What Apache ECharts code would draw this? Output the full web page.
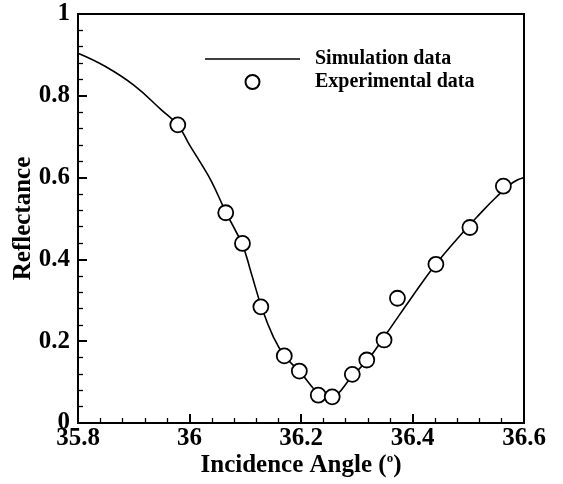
<!DOCTYPE html>
<html>
<head>
<meta charset="utf-8">
<script src="https://cdn.jsdelivr.net/npm/echarts@6/dist/echarts.min.js"></script>
<style>
html,body{margin:0;padding:0;background:#fff;}
#chart{width:563px;height:484px;}
</style>
</head>
<body>
<div id="chart"></div>
<script>
// Simulation curve
var simX = [35.80, 35.85, 35.90, 35.95, 35.98, 36.00, 36.02, 36.04, 36.065, 36.095, 36.11, 36.13, 36.15, 36.17, 36.20, 36.22, 36.235, 36.25, 36.265, 36.29, 36.32, 36.35, 36.40, 36.44, 36.48, 36.52, 36.55, 36.58, 36.60];
var simY = [0.904, 0.871, 0.826, 0.765, 0.727, 0.680, 0.636, 0.589, 0.516, 0.435, 0.370, 0.280, 0.212, 0.165, 0.122, 0.088, 0.068, 0.062, 0.070, 0.112, 0.155, 0.212, 0.310, 0.385, 0.450, 0.510, 0.552, 0.588, 0.600];
// Experimental points
var expX = [35.979, 36.065, 36.095, 36.128, 36.170, 36.197, 36.231, 36.256, 36.292, 36.318, 36.349, 36.373, 36.442, 36.503, 36.563];
var expY = [0.729, 0.514, 0.439, 0.284, 0.164, 0.127, 0.068, 0.064, 0.119, 0.154, 0.203, 0.305, 0.388, 0.478, 0.579];
var seriesNames = ['Simulation data', 'Experimental data'];
var xTitle = 'Incidence Angle (';
var yTitle = 'Reflectance';

var FONT = '"Liberation Serif", "Times New Roman", serif';
function fmt(v){ return String(parseFloat(Number(v).toFixed(2))); }

var tickStyle = { show: true, inside: true, length: 9, lineStyle: { color: '#000', width: 2 } };
var minorStyle = { show: true, splitNumber: 5, length: 5, lineStyle: { color: '#000', width: 1.3 } };

var chart = echarts.init(document.getElementById('chart'), null, {renderer:'canvas'});
chart.setOption({
  animation: false,
  backgroundColor: '#fff',
  grid: { left: 78, top: 14, width: 446, height: 409, outerBoundsMode: 'none', show: true, borderColor: '#000', borderWidth: 2 },
  legend: {
    orient: 'vertical', left: 205, top: 49, padding: 0, itemWidth: 95, itemHeight: 14, itemGap: 3,
    data: [
      { name: seriesNames[0], icon: 'path://M0,0 L95,0 L95,1.5 L0,1.5 Z' },
      { name: seriesNames[1], icon: 'circle' }
    ],
    textStyle: { fontFamily: FONT, fontWeight: 'bold', fontSize: 20, color: '#000', padding: [0,0,0,10] }
  },
  xAxis: {
    type: 'value', min: 35.8, max: 36.6, splitNumber: 4,
    name: xTitle + '{sup|o})',
    nameLocation: 'middle', nameGap: 29, nameMoveOverlap: false,
    nameTextStyle: { fontFamily: FONT, fontWeight: 'bold', fontSize: 25, color: '#000',
      rich: { sup: { fontFamily: FONT, fontWeight: 'bold', fontSize: 13, color: '#000', padding: [0,0,14,0] } } },
    axisLine: { show: true, onZero: false, lineStyle: { color: '#000', width: 2 } },
    axisTick: tickStyle,
    minorTick: minorStyle,
    splitLine: { show: false },
    axisLabel: { show: true, formatter: fmt, margin: 3, fontFamily: FONT, fontWeight: 'bold', fontSize: 25, color: '#000' }
  },
  yAxis: {
    type: 'value', min: 0, max: 1, splitNumber: 5,
    name: yTitle, nameLocation: 'middle', nameGap: 42, nameRotate: 90, nameMoveOverlap: false,
    nameTextStyle: { fontFamily: FONT, fontWeight: 'bold', fontSize: 25, color: '#000' },
    axisLine: { show: true, onZero: false, lineStyle: { color: '#000', width: 2 } },
    axisTick: tickStyle,
    minorTick: minorStyle,
    splitLine: { show: false },
    axisLabel: { show: true, formatter: fmt, margin: 8, fontFamily: FONT, fontWeight: 'bold', fontSize: 25, color: '#000' }
  },
  series: [
    {
      name: seriesNames[0], type: 'line', symbol: 'none', smooth: 0.45,
      data: simX.map(function(x,i){ return [x, simY[i]]; }),
      lineStyle: { color: '#000', width: 1.6 }, itemStyle: { color: '#000' }, z: 2
    },
    {
      name: seriesNames[1], type: 'scatter', symbol: 'circle', symbolSize: 15,
      data: expX.map(function(x,i){ return [x, expY[i]]; }),
      itemStyle: { color: '#fff', borderColor: '#000', borderWidth: 1.8, opacity: 1 }, z: 3
    }
  ]
});
</script>
</body>
</html>
